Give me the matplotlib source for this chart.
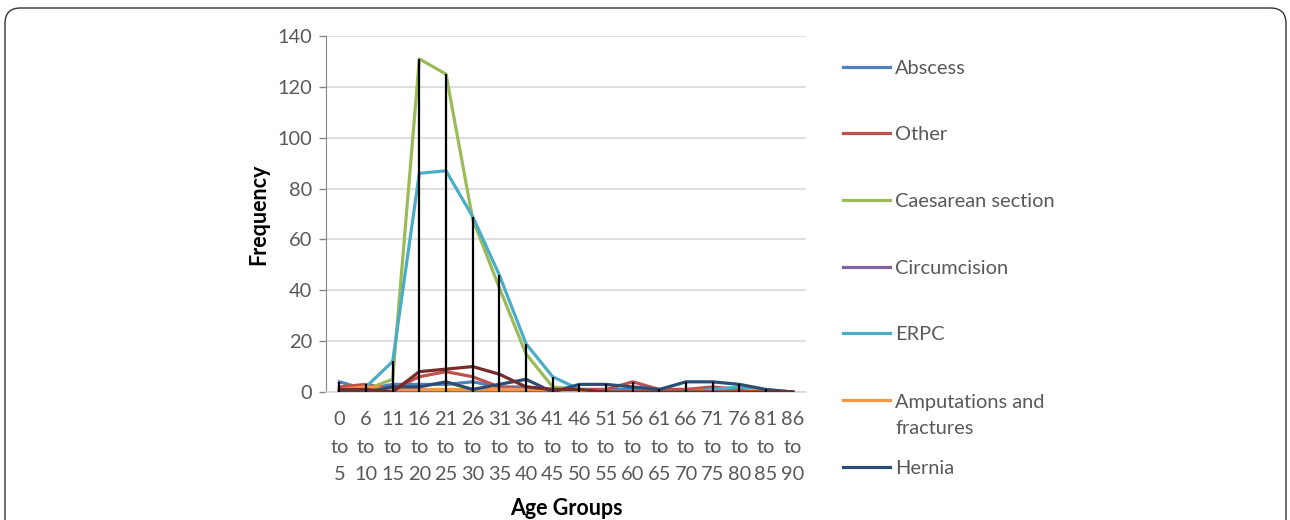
import matplotlib
matplotlib.use("Agg")
import matplotlib.pyplot as plt
import numpy as np
from matplotlib.lines import Line2D
from matplotlib.patches import FancyBboxPatch

plt.rcParams['font.family'] = ['Lato', 'DejaVu Sans']

age_groups = ["0\nto\n5", "6\nto\n10", "11\nto\n15", "16\nto\n20", "21\nto\n25",
              "26\nto\n30", "31\nto\n35", "36\nto\n40", "41\nto\n45", "46\nto\n50",
              "51\nto\n55", "56\nto\n60", "61\nto\n65", "66\nto\n70", "71\nto\n75",
              "76\nto\n80", "81\nto\n85", "86\nto\n90"]

abscess      = [4, 1, 3, 3, 3, 4, 2, 2, 1, 1, 1, 1, 1, 1, 1, 1, 0, 0]
other        = [2, 3, 1, 6, 8, 6, 2, 1, 1, 1, 1, 4, 1, 1, 2, 1, 0, 0]
caesarean    = [0, 1, 5, 131, 125, 68, 41, 15, 2, 1, 0, 0, 0, 0, 0, 0, 0, 0]
circumcision = [0, 0, 0, 0, 0, 0, 0, 0, 0, 0, 0, 0, 0, 0, 0, 0, 0, 0]
erpc         = [0, 2, 12, 86, 87, 69, 46, 19, 6, 1, 0, 0, 0, 0, 1, 2, 0, 0]
amputations  = [1, 2, 1, 1, 1, 1, 1, 1, 1, 0, 0, 0, 0, 0, 0, 0, 1, 0]
hernia       = [0, 0, 2, 2, 4, 1, 3, 5, 0, 3, 3, 2, 1, 4, 4, 3, 1, 0]
laparotomy   = [1, 1, 0, 8, 9, 10, 7, 2, 1, 1, 0, 0, 0, 0, 0, 0, 0, 0]

series_names = ["Abscess", "Other", "Caesarean section", "Circumcision", "ERPC",
                "Amputations and\nfractures", "Hernia", "Laparotomy"]
series_values = [abscess, other, caesarean, circumcision, erpc, amputations, hernia, laparotomy]
series_colors = ["#4F81BD", "#C0504D", "#9BBB59", "#8064A2", "#4BACC6", "#F79646", "#2C4D75", "#772C2A"]
legend_count = 7

fig = plt.figure(figsize=(12.9, 5.2), dpi=100)
ax = fig.add_axes([326/1290, 1-392/520, 480/1290, 356/520])

x = np.arange(len(age_groups))
for vals, col in zip(series_values, series_colors):
    ax.plot(x, vals, color=col, lw=2.3, solid_joinstyle='round', zorder=3)

data = np.array(series_values)
ax.vlines(x, data.min(axis=0), data.max(axis=0), color='black', lw=1.6, zorder=4)

ax.set_xlim(-0.5, len(age_groups) - 0.5)
ax.set_ylim(0, 140)
ax.set_yticks(np.arange(0, 141, 20))
ax.set_xticks(x)
ax.set_xticklabels(age_groups, linespacing=1.72)
ax.yaxis.grid(True, color='#D9D9D9', lw=1.2, zorder=0)
ax.set_axisbelow(True)
for s in ['top', 'right']:
    ax.spines[s].set_visible(False)
ax.spines['left'].set_color('#868686')
ax.spines['bottom'].set_color('#D9D9D9')
ax.spines['bottom'].set_linewidth(1.2)
ax.tick_params(axis='y', colors='#868686', labelcolor='#595959', labelsize=14.4, length=5, width=1, pad=5)
ax.tick_params(axis='x', length=0, labelcolor='#595959', labelsize=14.4, pad=14)
ax.set_xlabel("Age Groups", fontsize=15.5, fontweight='bold', labelpad=11)
ax.set_ylabel("Frequency", fontsize=15.5, fontweight='bold', labelpad=6)

# legend (manual, Excel style: handle aligned to first text line)
leg_y = [67, 133, 200, 267, 333, 400, 467]
line_gap = 27
for name, col, yy in zip(series_names[:legend_count], series_colors[:legend_count], leg_y):
    fy = 1 - yy / 520
    fig.add_artist(Line2D([843/1290, 890/1290], [fy, fy], color=col, lw=2.3,
                          transform=fig.transFigure))
    nlines = name.count("\n") + 1
    base = yy + 7 + line_gap * (nlines - 1)
    fig.text(895/1290, 1 - base / 520, name, fontsize=14.4, color='#595959',
             va='baseline', ha='left', linespacing=1.65)

# rounded frame
frame = FancyBboxPatch((5/1290, -0.2), 1281/1290, 1.2 - 8/520,
                       boxstyle="round,pad=0,rounding_size=0.012",
                       transform=fig.transFigure, fill=False, ec='#333333', lw=1.0,
                       mutation_aspect=1290/520)
fig.add_artist(frame)

fig.savefig("out.png", dpi=100)
